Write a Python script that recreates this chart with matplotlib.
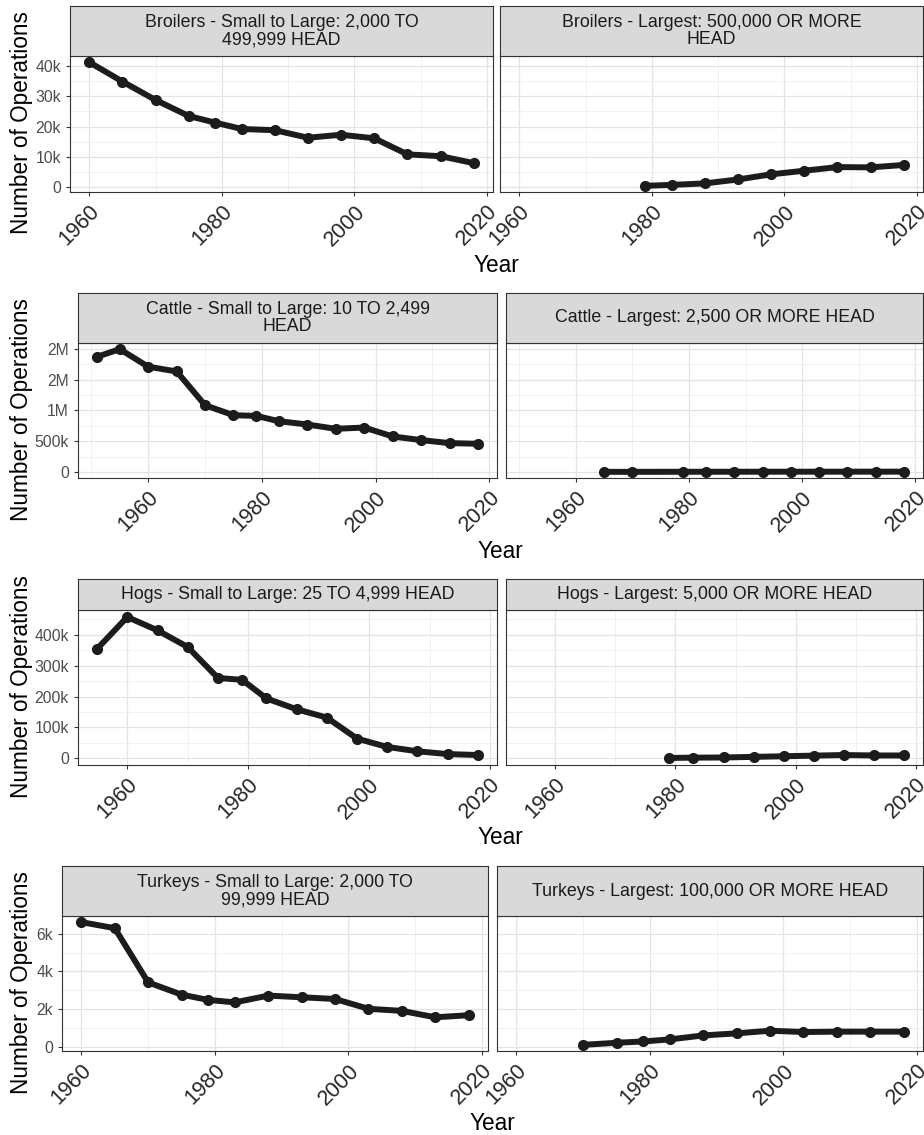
import numpy as np
import matplotlib
matplotlib.use("Agg")
from matplotlib import pyplot as plt

plt.rcParams["font.family"] = ["Liberation Sans", "DejaVu Sans"]

# ---- data ----
broiler_small_years = [1960, 1965, 1970, 1975, 1979, 1983, 1988, 1993, 1998, 2003, 2008, 2013, 2018]
broiler_small_ops = [41300, 34900, 28800, 23500, 21300, 19200, 18800, 16300, 17300, 16100, 10800, 10200, 7900]
broiler_large_years = [1979, 1983, 1988, 1993, 1998, 2003, 2008, 2013, 2018]
broiler_large_ops = [400, 700, 1200, 2500, 4200, 5400, 6600, 6500, 7300]

cattle_small_years = [1951, 1955, 1960, 1965, 1970, 1975, 1979, 1983, 1988, 1993, 1998, 2003, 2008, 2013, 2018]
cattle_small_ops = [1871000, 1995000, 1709000, 1633000, 1084000, 922000, 911000, 825000,
                    771000, 701000, 722000, 577000, 518000, 469000, 458000]
cattle_large_years = [1965, 1970, 1979, 1983, 1988, 1993, 1998, 2003, 2008, 2013, 2018]
cattle_large_ops = [2000, 2500, 3500, 3800, 4000, 4200, 4500, 4800, 5000, 5200, 5500]

hogs_small_years = [1955, 1960, 1965, 1970, 1975, 1979, 1983, 1988, 1993, 1998, 2003, 2008, 2013, 2018]
hogs_small_ops = [354000, 457000, 414000, 360000, 260000, 254000, 194000, 159000,
                  132000, 64000, 37000, 23000, 14000, 11000]
hogs_large_years = [1979, 1983, 1988, 1993, 1998, 2003, 2008, 2013, 2018]
hogs_large_ops = [1500, 2500, 3000, 5000, 7000, 9000, 11000, 9500, 9500]

turkey_small_years = [1960, 1965, 1970, 1975, 1979, 1983, 1988, 1993, 1998, 2003, 2008, 2013, 2018]
turkey_small_ops = [6610, 6290, 3420, 2770, 2490, 2360, 2720, 2630, 2540, 2020, 1910, 1570, 1680]
turkey_large_years = [1970, 1975, 1979, 1983, 1988, 1993, 1998, 2003, 2008, 2013, 2018]
turkey_large_ops = [110, 220, 290, 400, 610, 720, 860, 790, 810, 810, 810]

x_ticks = [1960, 1980, 2000, 2020]

broiler_yticks = [0, 10000, 20000, 30000, 40000]
broiler_ylabels = ["0", "10k", "20k", "30k", "40k"]
cattle_yticks = [0, 500000, 1000000, 1500000, 2000000]
cattle_ylabels = ["0", "500k", "1M", "2M", "2M"]
hogs_yticks = [0, 100000, 200000, 300000, 400000]
hogs_ylabels = ["0", "100k", "200k", "300k", "400k"]
turkey_yticks = [0, 2000, 4000, 6000]
turkey_ylabels = ["0", "2k", "4k", "6k"]

broiler_titles = ["Broilers - Small to Large: 2,000 TO\n499,999 HEAD", "Broilers - Largest: 500,000 OR MORE\nHEAD"]
cattle_titles = ["Cattle - Small to Large: 10 TO 2,499\nHEAD", "Cattle - Largest: 2,500 OR MORE HEAD"]
hogs_titles = ["Hogs - Small to Large: 25 TO 4,999 HEAD", "Hogs - Largest: 5,000 OR MORE HEAD"]
turkey_titles = ["Turkeys - Small to Large: 2,000 TO\n99,999 HEAD", "Turkeys - Largest: 100,000 OR MORE HEAD"]

W, H = 924, 1135
fig = plt.figure(figsize=(W / 100, H / 100), dpi=100)


def rect(l, t, r, b):
    return [l / W, 1 - b / H, (r - l) / W, (b - t) / H]


def expand(vals):
    lo, hi = min(vals), max(vals)
    d = (hi - lo) * 0.05
    return lo - d, hi + d


def make_row(series, titles, yticks, ylabels, geo):
    lx, rx, st, sb, pb, ylab_y, year_y = geo
    all_x = series[0][0] + series[1][0]
    all_y = series[0][1] + series[1][1]
    xlim = expand(all_x)
    ylim = expand(all_y)
    for i, ((xs, ys), title, (l, r)) in enumerate(zip(series, titles, [lx, rx])):
        ax = fig.add_axes(rect(l, sb, r, pb))
        ax.set_xticks(x_ticks)
        ax.set_xticks([x + 10 for x in [1940] + x_ticks], minor=True)
        ax.set_yticks(yticks)
        step = yticks[1] - yticks[0]
        ax.set_yticks([v + step / 2 for v in [yticks[0] - step] + yticks], minor=True)
        ax.set_xlim(*xlim)
        ax.set_ylim(*ylim)
        ax.grid(which="major", color="#E4E4E4", lw=0.9)
        ax.grid(which="minor", color="#EFEFEF", lw=0.6)
        ax.set_axisbelow(True)
        for s in ax.spines.values():
            s.set_color("#333333")
            s.set_linewidth(0.8)
        ax.tick_params(which="minor", length=0)
        ax.tick_params(which="major", length=3, width=0.8, color="#333333")
        ax.set_xticklabels([str(x) for x in x_ticks], rotation=45, ha="right",
                           rotation_mode="anchor", fontsize=15.5, color="#262626")
        if i == 0:
            ax.set_yticklabels(ylabels, fontsize=11.3, color="#4D4D4D")
        else:
            ax.tick_params(axis="y", left=False, labelleft=False)
        ax.plot(xs, ys, color="#1c1c1c", lw=4.3, marker="o", ms=7,
                solid_capstyle="round", solid_joinstyle="round")
        sax = fig.add_axes(rect(l, st, r, sb))
        sax.set_facecolor("#D9D9D9")
        sax.set_xticks([])
        sax.set_yticks([])
        for s in sax.spines.values():
            s.set_color("#333333")
            s.set_linewidth(0.8)
        sax.text(0.5, 0.5, title, ha="center", va="center", fontsize=12.8,
                 color="#1a1a1a", linespacing=1.05, transform=sax.transAxes)
    fig.text(22 / W, 1 - ylab_y / H, "Number of Operations", rotation=90,
             ha="center", va="center", fontsize=16.3, color="black")
    fig.text((lx[0] + rx[1]) / 2 / W, 1 - year_y / H, "Year", ha="center", va="center",
             fontsize=16.3, color="black")


make_row([(broiler_small_years, broiler_small_ops), (broiler_large_years, broiler_large_ops)],
         broiler_titles, broiler_yticks, broiler_ylabels,
         ((70, 493), (500, 923), 6, 56, 192, 123, 265))
make_row([(cattle_small_years, cattle_small_ops), (cattle_large_years, cattle_large_ops)],
         cattle_titles, cattle_yticks, cattle_ylabels,
         ((78, 497), (506, 923), 293, 343, 478, 410, 551))
make_row([(hogs_small_years, hogs_small_ops), (hogs_large_years, hogs_large_ops)],
         hogs_titles, hogs_yticks, hogs_ylabels,
         ((78, 497), (506, 923), 579, 610, 765, 687, 837))
make_row([(turkey_small_years, turkey_small_ops), (turkey_large_years, turkey_large_ops)],
         turkey_titles, turkey_yticks, turkey_ylabels,
         ((62, 488), (497, 923), 866, 916, 1051, 983, 1123))

fig.savefig("out.png", dpi=100)
